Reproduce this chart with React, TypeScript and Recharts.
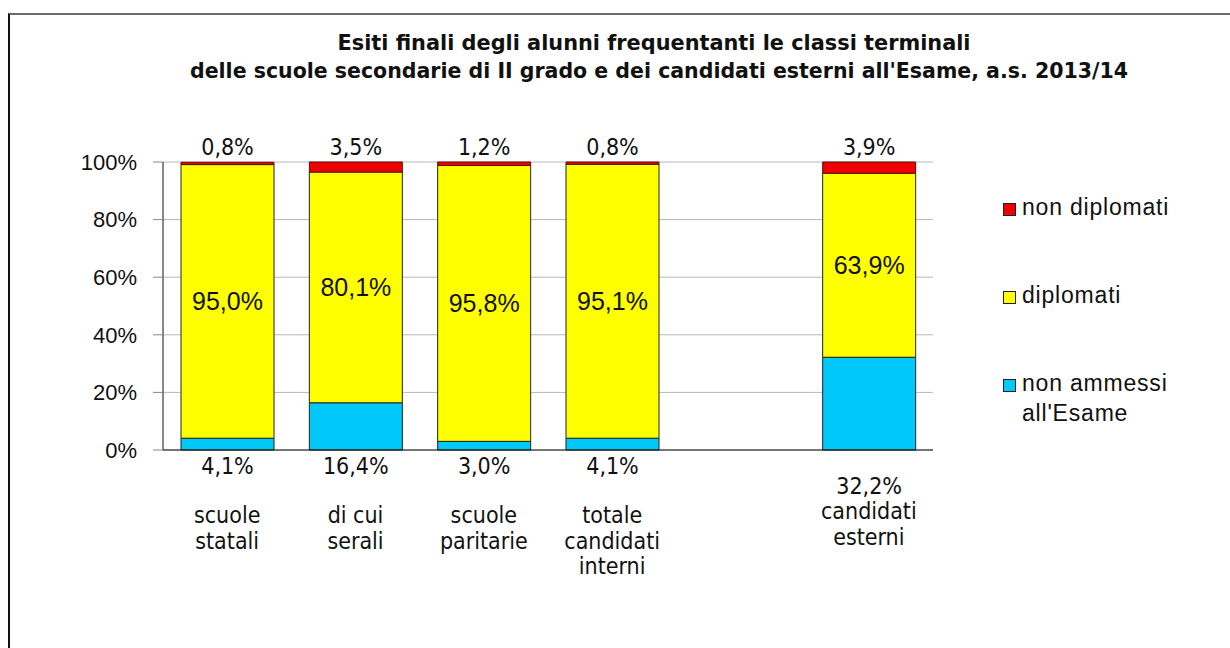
import { BarChart, Bar, XAxis, YAxis, CartesianGrid, Legend, LabelList } from "recharts";

const CATEGORIES = ["scuole\nstatali", "di cui\nserali", "scuole\nparitarie", "totale\ncandidati\ninterni", "", "candidati\nesterni"];
const NON_AMMESSI = [4.1, 16.4, 3.0, 4.1, null, 32.2];
const DIPLOMATI = [95.0, 80.1, 95.8, 95.1, null, 63.9];
const NON_DIPLOMATI = [0.8, 3.5, 1.2, 0.8, null, 3.9];
const Y_TICKS = [0, 20, 40, 60, 80, 100];
const LEGEND_ORDER = ["non diplomati", "diplomati", "non ammessi\nall'Esame"];

const TITLE_1 = "Esiti finali degli alunni frequentanti le classi terminali";
const TITLE_2 = "delle scuole secondarie di II grado e dei candidati esterni all'Esame, a.s. 2013/14";

const BLUE = "#00C8F8";
const YELLOW = "#FFFF00";
const RED = "#F00000";
const NARROW = "'DejaVu Sans Condensed', 'Liberation Sans Narrow', sans-serif";
const ARIAL = "'Liberation Sans', Arial, sans-serif";

const data = CATEGORIES.map((name, i) => ({
  name,
  nonAmmessi: NON_AMMESSI[i],
  diplomati: DIPLOMATI[i],
  nonDiplomati: NON_DIPLOMATI[i],
}));

const fmt = (v: number | null) => (v == null ? "" : `${v.toFixed(1).replace(".", ",")}%`);

function CategoryTick({ x, y, payload }: any) {
  const lines = String(payload.value).split("\n");
  const shift = payload.value === CATEGORIES[5] ? -4 : 0;
  return (
    <text x={x} y={y + 65 + shift} textAnchor="middle" fontFamily={NARROW} fontSize={23} fill="#111">
      {lines.map((l, i) => (
        <tspan key={i} x={x} dy={i === 0 ? 0 : 25.5}>{l}</tspan>
      ))}
    </text>
  );
}

function BottomLabel({ x, y, width, height, value }: any) {
  if (value == null) return null;
  // the external-candidates label sits a bit lower in the original
  const extra = value === NON_AMMESSI[5] ? 20 : 0;
  return (
    <text x={x + width / 2} y={y + height + 24 + extra} textAnchor="middle" fontFamily={NARROW} fontSize={23} fill="#111">
      {fmt(value)}
    </text>
  );
}

function MiddleLabel({ x, y, width, height, value }: any) {
  if (value == null) return null;
  return (
    <text x={x + width / 2} y={y + height / 2 + 9} textAnchor="middle" fontFamily={ARIAL} fontSize={25} fill="#111">
      {fmt(value)}
    </text>
  );
}

function TopLabel({ x, y, width, value }: any) {
  if (value == null) return null;
  return (
    <text x={x + width / 2} y={y - 7} textAnchor="middle" fontFamily={NARROW} fontSize={23} fill="#111">
      {fmt(value)}
    </text>
  );
}

function LegendBox({ payload }: any) {
  const items = [...(payload || [])].sort((a: any, b: any) => LEGEND_ORDER.indexOf(a.value) - LEGEND_ORDER.indexOf(b.value));
  return (
    <div style={{ fontFamily: ARIAL, fontSize: 23, letterSpacing: 0.8, color: "#111" }}>
      {items.map((it: any) => (
        <div key={it.value} style={{ display: "flex", alignItems: "flex-start", height: 88 }}>
          <span style={{ width: 11, height: 11, background: it.color, border: "1px solid #222", marginTop: 7, marginRight: 6, flexShrink: 0 }} />
          <span style={{ whiteSpace: "pre-line", lineHeight: "30px", marginTop: -4 }}>{it.value}</span>
        </div>
      ))}
    </div>
  );
}

export default function App() {
  return (
    <div style={{ position: "absolute", left: 0, top: 0, width: 1230, height: 648, background: "#fff", overflow: "hidden" }}>
      <div style={{ position: "absolute", left: 8, top: 13, width: 1230, height: 648, borderTop: "2px solid #6a6a6a", borderLeft: "2px solid #111" }} />
      <svg width={1230} height={100} style={{ position: "absolute", left: 0, top: 0 }}>
        <text x={654} y={50} textAnchor="middle" fontFamily={NARROW} fontWeight="bold" fontSize={22} fill="#111" textLength={633} lengthAdjust="spacingAndGlyphs">
          {TITLE_1}
        </text>
        <text x={659} y={78} textAnchor="middle" fontFamily={NARROW} fontWeight="bold" fontSize={22} fill="#111" textLength={938} lengthAdjust="spacingAndGlyphs">
          {TITLE_2}
        </text>
      </svg>
      <div style={{ position: "absolute", left: 0, top: 0 }}>
        <BarChart width={1230} height={648} data={data} margin={{ top: 162, right: 77, bottom: 68, left: 103 }} barSize={93}>
          <CartesianGrid vertical={false} stroke="#b8b8b8" />
          <XAxis dataKey="name" height={130} interval={0} tick={<CategoryTick />} tickLine={false} axisLine={{ stroke: "#111" }} />
          <YAxis
            domain={[0, 100]}
            ticks={Y_TICKS}
            width={60}
            tickFormatter={(v: number) => `${v}%`}
            tick={{ fontFamily: ARIAL, fontSize: 22, fill: "#111" }}
            tickSize={10}
            tickMargin={16}
            tickLine={{ stroke: "#888" }}
            axisLine={{ stroke: "#111" }}
          />
          <YAxis yAxisId="r" orientation="right" domain={[0, 100]} width={0} tick={false} tickLine={false} axisLine={{ stroke: "#999" }} />
          <Legend
            layout="vertical"
            align="right"
            verticalAlign="top"
            content={<LegendBox />}
            wrapperStyle={{ left: 1003, top: 196, width: 220, right: "auto" }}
          />
          <Bar dataKey="nonAmmessi" name={"non ammessi\nall'Esame"} stackId="a" fill={BLUE} stroke="#222" strokeWidth={1} isAnimationActive={false}>
            <LabelList dataKey="nonAmmessi" content={<BottomLabel />} />
          </Bar>
          <Bar dataKey="diplomati" name="diplomati" stackId="a" fill={YELLOW} stroke="#222" strokeWidth={1} isAnimationActive={false}>
            <LabelList dataKey="diplomati" content={<MiddleLabel />} />
          </Bar>
          <Bar dataKey="nonDiplomati" name="non diplomati" stackId="a" fill={RED} stroke="#5a1010" strokeWidth={1} isAnimationActive={false}>
            <LabelList dataKey="nonDiplomati" content={<TopLabel />} />
          </Bar>
        </BarChart>
      </div>
    </div>
  );
}
